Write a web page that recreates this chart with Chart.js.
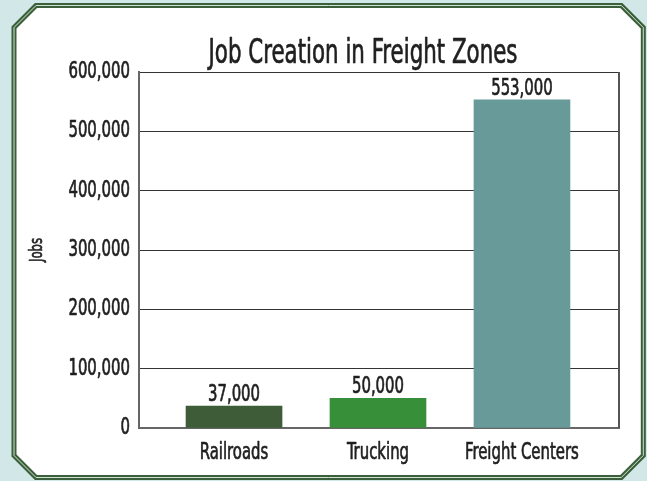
<!DOCTYPE html>
<html><head><meta charset="utf-8">
<script src="https://cdn.jsdelivr.net/npm/chart.js@4"></script>
<style>html,body{margin:0;padding:0;background:#d2e8e8;} #wrap{width:647px;height:481px;}</style>
</head><body><div id="wrap"><canvas id="c" width="647" height="481"></canvas></div>
<script>
const categories = ['Railroads', 'Trucking', 'Freight Centers'];
const jobs = [37000, 50000, 553000];
const barColors = ['#3d5c37', '#378f3a', '#679a98'];
const yTicks = [0, 100000, 200000, 300000, 400000, 500000, 600000];
const chartTitle = 'Job Creation in Freight Zones';
const yAxisTitle = 'Jobs';

function pickFont(cands, fallback) {
  const c = document.createElement('canvas').getContext('2d');
  const test = 'Job Creation 0123456789 Freight';
  for (const f of cands) {
    let ok = true;
    for (const base of ['monospace', 'serif']) {
      c.font = '30px ' + base; const w0 = c.measureText(test).width;
      c.font = '30px "' + f + '", ' + base; const w1 = c.measureText(test).width;
      if (w0 === w1) ok = false;
    }
    if (ok) return '"' + f + '", sans-serif';
  }
  return fallback;
}
const FONT = pickFont(['Liberation Sans Narrow', 'DejaVu Sans Condensed', 'Roboto Condensed', 'Arial Narrow'], 'Roboto, sans-serif');
const TEXT = '#1f1f1f';
const SX = 0.72; // horizontal condensing of all text (reference uses a condensed face)

const canvas = document.getElementById('c');
const c2d = canvas.getContext('2d');
const origFill = c2d.fillText.bind(c2d);
const origStroke = c2d.strokeText.bind(c2d);
c2d.fillText = function (t, x, y, mw) {
  this.save();
  this.translate(x, y);
  this.scale(SX, 1);
  this.strokeStyle = this.fillStyle;
  this.lineWidth = 0.7;
  this.lineJoin = 'round';
  if (mw === undefined || mw === null) { origFill(t, 0, 0); origStroke(t, 0, 0); }
  else { origFill(t, 0, 0, mw / SX); origStroke(t, 0, 0, mw / SX); }
  this.restore();
};

const framePlugin = {
  id: 'frame',
  beforeDraw(chart) {
    const ctx = chart.ctx;
    ctx.save();
    ctx.fillStyle = '#d2e8e8';
    ctx.fillRect(0, 0, chart.width, chart.height);
    const L = 14, T = 5.5, R = 643.3, B = 477.5, k = 22;
    ctx.beginPath();
    ctx.moveTo(L + k, T); ctx.lineTo(R - k, T); ctx.lineTo(R, T + k);
    ctx.lineTo(R, B - k); ctx.lineTo(R - k, B); ctx.lineTo(L + k, B);
    ctx.lineTo(L, B - k); ctx.lineTo(L, T + k); ctx.closePath();
    ctx.fillStyle = '#ffffff'; ctx.fill();
    ctx.lineJoin = 'miter';
    ctx.strokeStyle = '#3a5f3a'; ctx.lineWidth = 5; ctx.stroke();
    ctx.strokeStyle = '#cfe2d2'; ctx.lineWidth = 1; ctx.stroke();
    ctx.restore();
  }
};

const boxPlugin = {
  id: 'box',
  afterDatasetsDraw(chart) {
    const {ctx, chartArea: a} = chart;
    ctx.save();
    ctx.strokeStyle = '#555'; ctx.lineWidth = 2;
    ctx.beginPath(); ctx.moveTo(a.right, a.top); ctx.lineTo(a.right, a.bottom); ctx.stroke();
    ctx.restore();
  }
};

const labelPlugin = {
  id: 'vals',
  afterDatasetsDraw(chart) {
    const ctx = chart.ctx;
    ctx.save();
    ctx.font = '23px ' + FONT; ctx.fillStyle = TEXT;
    ctx.textAlign = 'center'; ctx.textBaseline = 'alphabetic';
    chart.getDatasetMeta(0).data.forEach((bar, i) => {
      ctx.fillText(jobs[i].toLocaleString('en-US'), bar.x, bar.y - 5);
    });
    ctx.restore();
  }
};

const titlePlugin = {
  id: 'ttl',
  afterDraw(chart) {
    const ctx = chart.ctx;
    ctx.save();
    ctx.font = '33px ' + FONT; ctx.fillStyle = TEXT;
    ctx.textAlign = 'center'; ctx.textBaseline = 'alphabetic';
    ctx.fillText(chartTitle, 363, 63);
    ctx.restore();
  }
};

new Chart(canvas, {
  type: 'bar',
  data: {
    datasets: [{
      data: categories.map((c, i) => ({x: i, y: jobs[i]})),
      backgroundColor: barColors,
      borderWidth: 0
    }]
  },
  options: {
    responsive: false, animation: false, devicePixelRatio: 1,
    layout: {padding: {left: 20, right: 28, top: 72, bottom: 0}},
    datasets: {bar: {barThickness: 96}},
    plugins: {legend: {display: false}, tooltip: {enabled: false}, title: {display: false}},
    scales: {
      x: {
        type: 'linear', min: -0.66, max: 2.674, offset: false,
        grid: {display: false},
        border: {display: true, color: '#666', width: 2},
        afterBuildTicks: s => { s.ticks = categories.map((_, i) => ({value: i})); },
        afterFit: s => { s.height = 53; },
        ticks: {autoSkip: false, maxRotation: 0, padding: 3, color: TEXT,
          font: {family: FONT, size: 23}, callback: v => categories[v]}
      },
      y: {
        min: 0, max: 600000,
        afterBuildTicks: s => { s.ticks = yTicks.map(v => ({value: v})); },
        afterFit: s => { s.width = 119; },
        grid: {color: '#333', lineWidth: 1, drawTicks: false},
        border: {color: '#666', width: 2},
        ticks: {padding: 9, color: TEXT, font: {family: FONT, size: 23},
          callback: v => v.toLocaleString('en-US')},
        title: {display: true, text: yAxisTitle, color: TEXT,
          font: {family: FONT, size: 18}, padding: {top: 7, bottom: 0}}
      }
    }
  },
  plugins: [framePlugin, boxPlugin, labelPlugin, titlePlugin]
});
</script>
</body></html>
